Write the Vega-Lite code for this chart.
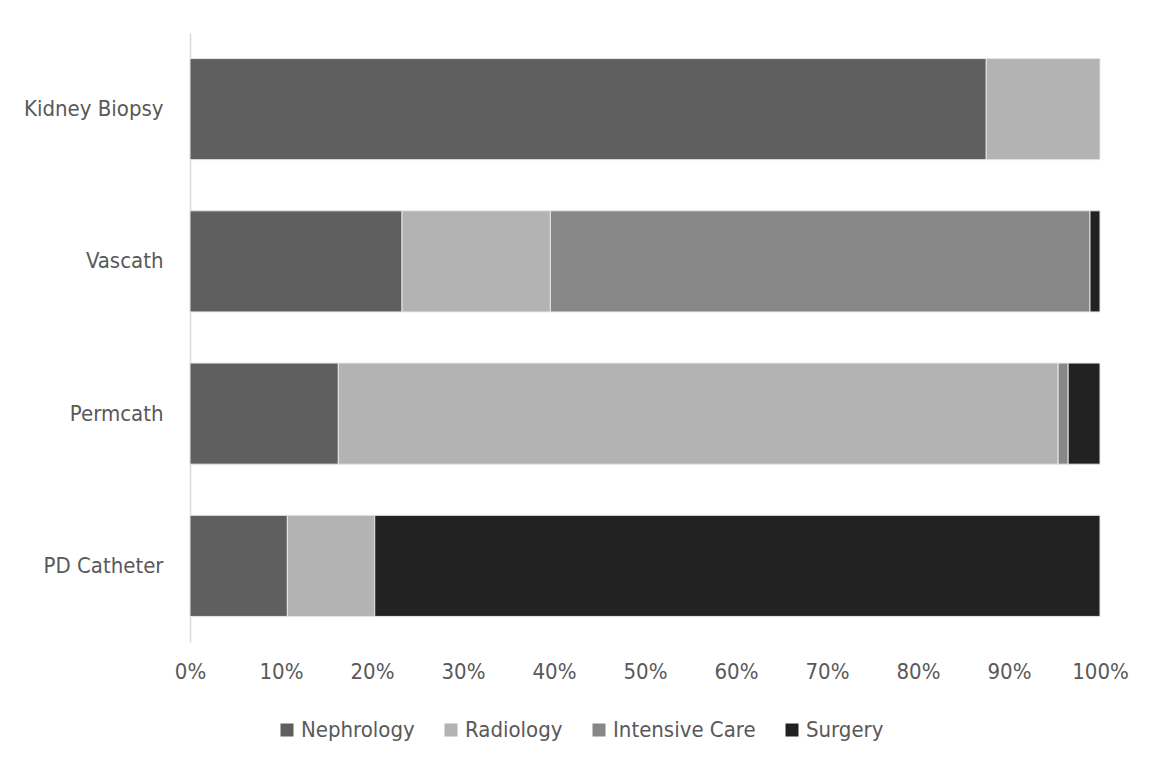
{
  "$schema": "https://vega.github.io/schema/vega-lite/v6.json",
  "width": 910,
  "height": 609,
  "autosize": "none",
  "padding": {"left": 190, "top": 33, "right": 55, "bottom": 125},
  "background": "white",
  "config": {
    "view": {"stroke": null},
    "font": "DejaVu Sans Condensed, sans-serif"
  },
  "data": {
    "values": [
      {"procedure": "Kidney Biopsy", "department": "Nephrology", "share": 87.5},
      {"procedure": "Kidney Biopsy", "department": "Radiology", "share": 12.5},
      {"procedure": "Vascath", "department": "Nephrology", "share": 23.3},
      {"procedure": "Vascath", "department": "Radiology", "share": 16.3},
      {"procedure": "Vascath", "department": "Intensive Care", "share": 59.3},
      {"procedure": "Vascath", "department": "Surgery", "share": 1.1},
      {"procedure": "Permcath", "department": "Nephrology", "share": 16.3},
      {"procedure": "Permcath", "department": "Radiology", "share": 79.1},
      {"procedure": "Permcath", "department": "Intensive Care", "share": 1.1},
      {"procedure": "Permcath", "department": "Surgery", "share": 3.5},
      {"procedure": "PD Catheter", "department": "Nephrology", "share": 10.7},
      {"procedure": "PD Catheter", "department": "Radiology", "share": 9.6},
      {"procedure": "PD Catheter", "department": "Surgery", "share": 79.7}
    ]
  },
  "transform": [
    {"calculate": "indexof(['Nephrology', 'Radiology', 'Intensive Care', 'Surgery'], datum.department)", "as": "stackOrder"}
  ],
  "mark": {"type": "bar", "stroke": "#e6e6e6", "strokeWidth": 1},
  "encoding": {
    "y": {
      "field": "procedure",
      "type": "nominal",
      "sort": ["Kidney Biopsy", "Vascath", "Permcath", "PD Catheter"],
      "scale": {"paddingInner": 0.336, "paddingOuter": 0.168},
      "axis": {
        "title": null,
        "ticks": false,
        "domain": true,
        "domainColor": "#d9d9d9",
        "domainWidth": 1.5,
        "labelFontSize": 22,
        "labelColor": "#595959",
        "labelPadding": 27
      }
    },
    "x": {
      "field": "share",
      "type": "quantitative",
      "stack": "normalize",
      "scale": {"domain": [0, 1], "nice": false},
      "axis": {
        "title": null,
        "format": "%",
        "values": [0, 0.1, 0.2, 0.3, 0.4, 0.5, 0.6, 0.7, 0.8, 0.9, 1],
        "grid": false,
        "domain": false,
        "ticks": false,
        "labelFontSize": 22,
        "labelColor": "#595959",
        "labelPadding": 19,
        "labelFlush": false
      }
    },
    "order": {"field": "stackOrder", "type": "quantitative", "sort": "ascending"},
    "color": {
      "field": "department",
      "type": "nominal",
      "sort": ["Nephrology", "Radiology", "Intensive Care", "Surgery"],
      "scale": {
        "domain": ["Nephrology", "Radiology", "Intensive Care", "Surgery"],
        "range": ["#5f5f5f", "#b3b3b3", "#878787", "#222222"]
      },
      "legend": {
        "title": null,
        "orient": "none",
        "direction": "horizontal",
        "legendX": 86,
        "legendY": 686,
        "columns": 4,
        "gridAlign": "none",
        "columnPadding": 25,
        "symbolType": "square",
        "symbolSize": 169,
        "symbolStrokeWidth": 0,
        "labelFontSize": 22,
        "labelColor": "#595959",
        "labelOffset": 3
      }
    }
  }
}
